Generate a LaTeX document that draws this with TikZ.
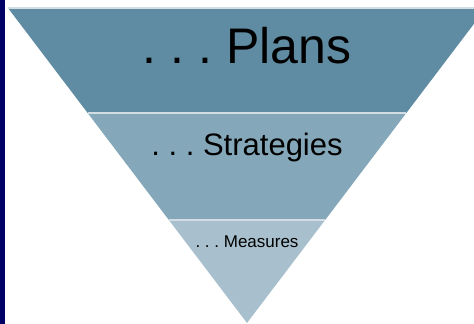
\documentclass[tikz,border=0pt]{standalone}
\usepackage{fontspec}
\setmainfont{Liberation Sans}
\usetikzlibrary{calc}
\definecolor{planblue}{HTML}{5F8CA3}
\definecolor{stratblue}{HTML}{84A8B9}
\definecolor{measblue}{HTML}{A8C0CD}
\definecolor{sideblue}{HTML}{000066}
\definecolor{rimgray}{HTML}{D3DEE4}
\frenchspacing

\begin{document}
\begin{tikzpicture}[x=1pt, y=-1pt,
    every node/.style={inner sep=0pt}]

    \tikzstyle{band}=[draw=none]
    \tikzstyle{rim}=[draw=rimgray, line width=1.5pt]
    \tikzstyle{bandlabel}=[anchor=base, text=black]

    \useasboundingbox (0,0) rectangle (474,324);
    \clip (0,0) rectangle (474,324);

    % side bar
    \fill[sideblue] (0,0) rectangle (5,324);

    \coordinate (tl) at (8,8);
    \coordinate (tr) at (486,8);
    \coordinate (apex) at (247,323);
    \coordinate (l1) at ($(tl)!0.333!(apex)$);
    \coordinate (r1) at ($(tr)!0.333!(apex)$);
    \coordinate (l2) at ($(tl)!0.673!(apex)$);
    \coordinate (r2) at ($(tr)!0.673!(apex)$);

    \fill[band, planblue] (tl)--(tr)--(r1)--(l1)--cycle;
    \fill[band, stratblue] (l1)--(r1)--(r2)--(l2)--cycle;
    \fill[band, measblue] (l2)--(r2)--(apex)--cycle;

    \draw[rim] (tl)--(tr);
    \draw[rim] (l1)--(r1);
    \draw[rim] (l2)--(r2);

    \node[bandlabel, font=\fontsize{50}{50}\selectfont] (plans) at (247,63) {. . . Plans};
    \node[bandlabel, font=\fontsize{31}{31}\selectfont] (strategies) at (247,155) {. . . Strategies};
    \node[bandlabel, font=\fontsize{17}{17}\selectfont] (measures) at (247,247) {. . . Measures};

\end{tikzpicture}
\end{document}
